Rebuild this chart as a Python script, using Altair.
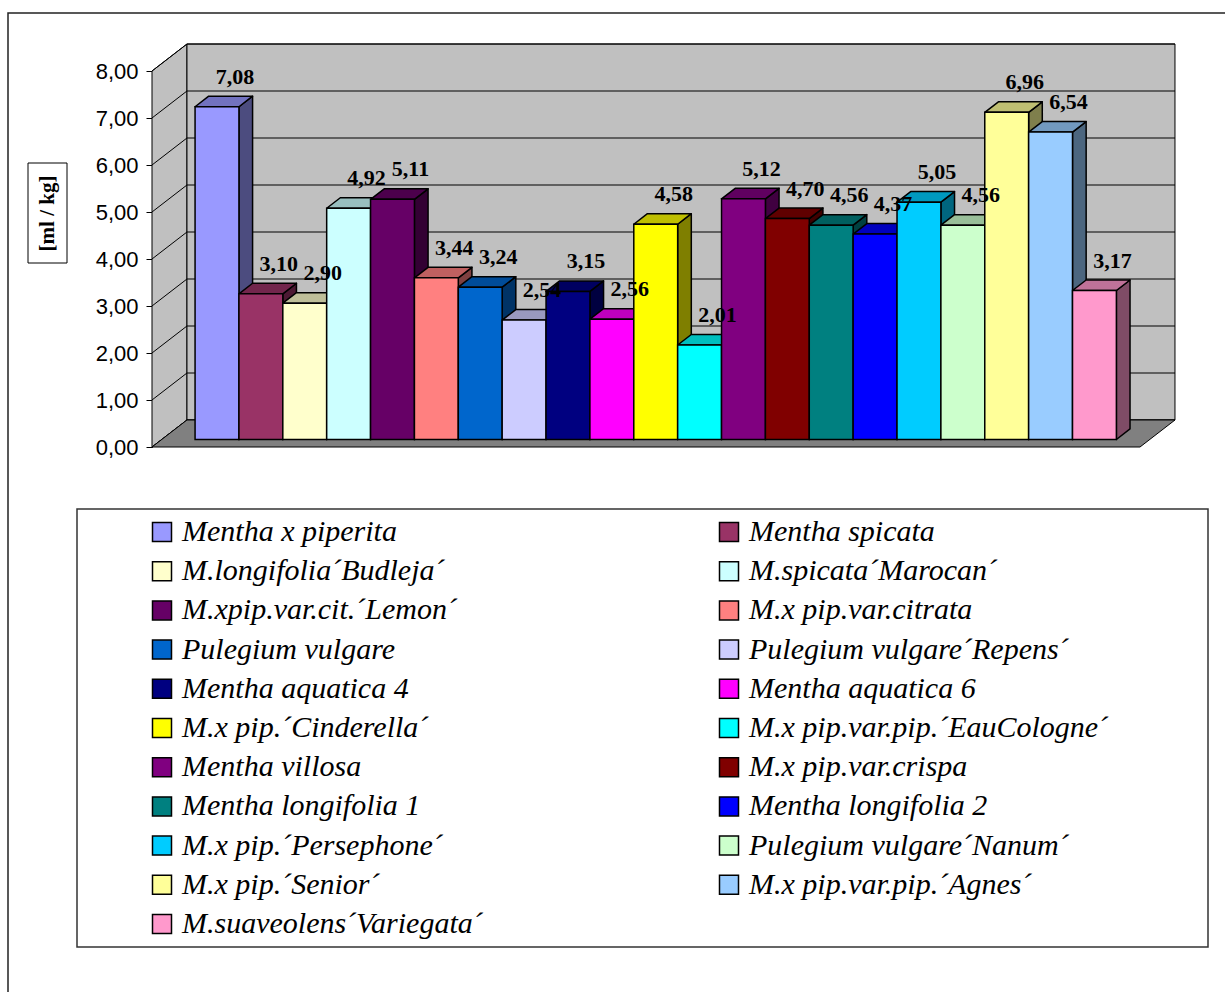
import altair as alt
import pandas as pd

# ---------------- data ----------------
NAMES = [
    "Mentha x piperita", "Mentha spicata", "M.longifolia´Budleja´", "M.spicata´Marocan´",
    "M.xpip.var.cit.´Lemon´", "M.x pip.var.citrata", "Pulegium vulgare", "Pulegium vulgare´Repens´",
    "Mentha aquatica 4", "Mentha aquatica 6", "M.x pip.´Cinderella´", "M.x pip.var.pip.´EauCologne´",
    "Mentha villosa", "M.x pip.var.crispa", "Mentha longifolia 1", "Mentha longifolia 2",
    "M.x pip.´Persephone´", "Pulegium vulgare´Nanum´", "M.x pip.´Senior´", "M.x pip.var.pip.´Agnes´",
    "M.suaveolens´Variegata´",
]
VALUES = [7.08, 3.10, 2.90, 4.92, 5.11, 3.44, 3.24, 2.54, 3.15, 2.56, 4.58,
          2.01, 5.12, 4.70, 4.56, 4.37, 5.05, 4.56, 6.96, 6.54, 3.17]
COLORS = ["#9999FF", "#993366", "#FFFFCC", "#CCFFFF", "#660066", "#FF8080", "#0066CC",
          "#CCCCFF", "#000080", "#FF00FF", "#FFFF00", "#00FFFF", "#800080", "#800000",
          "#008080", "#0000FF", "#00CCFF", "#CCFFCC", "#FFFF99", "#99CCFF", "#FF99CC"]
TICKS = [0, 1, 2, 3, 4, 5, 6, 7, 8]
Y_TITLE = "[ml / kg]"

# ---------------- 3-D projection helpers (data units) ----------------
N = len(VALUES)
MARGIN = 0.76          # floor margin on each side, in bar widths
DU = 35 / 43.9         # full depth shift in x (bar units)
DV = 27 / 47.0         # full depth shift in y (value units)
F1, F2 = 0.278, 0.668  # depth of bar front / back planes
TOP = TICKS[-1]


def shade(hexcol, k):
    h = hexcol.lstrip("#")
    r, g, b = (int(h[i:i + 2], 16) for i in (0, 2, 4))
    return "#%02x%02x%02x" % (int(r * k), int(g * k), int(b * k))


front = pd.DataFrame({
    "name": NAMES,
    "x": [i + F1 * DU for i in range(N)],
    "x2": [i + 1 + F1 * DU for i in range(N)],
    "y0": [F1 * DV] * N,
    "y1": [v + F1 * DV for v in VALUES],
    "lx": [i + 0.5 + F1 * DU for i in range(N)],
    "label": [f"{v:.2f}".replace(".", ",") for v in VALUES],
})

side_rows, top_rows = [], []
for i, (nm, v, c) in enumerate(zip(NAMES, VALUES, COLORS)):
    for f in (F1, F2):
        side_rows.append({"name": nm, "U": i + 1 + f * DU, "lo": f * DV, "hi": v + f * DV,
                          "col": shade(c, 0.5)})
        top_rows.append({"name": nm, "V": v + f * DV, "lo": i + f * DU, "hi": i + 1 + f * DU,
                         "col": shade(c, 0.75)})
side = pd.DataFrame(side_rows)
top = pd.DataFrame(top_rows)

left_wall = pd.DataFrame({"U": [-MARGIN, -MARGIN + DU], "lo": [0, DV], "hi": [TOP, TOP + DV]})
back_wall = pd.DataFrame({"x": [-MARGIN + DU], "x2": [N + MARGIN + DU], "y": [DV], "y2": [TOP + DV]})
grid = pd.DataFrame({"x": [-MARGIN + DU] * len(TICKS), "x2": [N + MARGIN + DU] * len(TICKS),
                     "y": [t + DV for t in TICKS]})
slant = pd.DataFrame({"x": [-MARGIN] * len(TICKS), "x2": [-MARGIN + DU] * len(TICKS),
                      "y": TICKS, "y2": [t + DV for t in TICKS]})
floor = pd.DataFrame({"V": [0, DV], "lo": [-MARGIN, -MARGIN + DU], "hi": [N + MARGIN, N + MARGIN + DU]})
one = pd.DataFrame({"k": [0]})

XS = alt.Scale(domain=[-MARGIN, N + MARGIN], nice=False, zero=False)
YS = alt.Scale(domain=[TICKS[0], TOP], nice=False, zero=False)
YAXIS = alt.Axis(
    values=TICKS, labelExpr="replace(format(datum.value, '.2f'), '.', ',')",
    title=Y_TITLE, titleX=-105, titleY=142, titleAngle=270,
    titleAlign="center", titleBaseline="middle",
    titleFont="Liberation Serif", titleFontWeight="bold", titleFontSize=21, titleColor="black",
    labelFont="Liberation Sans", labelFontSize=22, labelColor="black",
    tickColor="black", tickSize=6, domainColor="black", labelPadding=8, grid=False)


def Y(field, **kw):
    return alt.Y(field, scale=YS, axis=YAXIS, title=Y_TITLE, **kw)


# legend order: the grid fills column by column, so interleave to read row by row
LEG_ORDER = NAMES[0::2] + NAMES[1::2]
LEG_COLORS = [COLORS[NAMES.index(n)] for n in LEG_ORDER]

# ---------------- decorations ----------------
frame = alt.Chart(one).mark_rect(fillOpacity=0, stroke="#222222", strokeWidth=1.5).encode(
    x=alt.value(-144), x2=alt.value(1100), y=alt.value(-58), y2=alt.value(940))
title_box = alt.Chart(one).mark_rect(fillOpacity=0, stroke="black", strokeWidth=1).encode(
    x=alt.value(-124), x2=alt.value(-85), y=alt.value(92), y2=alt.value(192))
legend_box = alt.Chart(one).mark_rect(fillOpacity=0, stroke="#333333", strokeWidth=1.5).encode(
    x=alt.value(-75), x2=alt.value(1056), y=alt.value(438), y2=alt.value(876))

lwall = alt.Chart(left_wall).mark_area(orient="vertical", fill="#C0C0C0", stroke="black",
                                       strokeWidth=1).encode(
    x=alt.X("U:Q", scale=XS, axis=None),
    y=Y("hi:Q", stack=None),
    y2="lo:Q")
bwall = alt.Chart(back_wall).mark_rect(fill="#C0C0C0", stroke="black", strokeWidth=1).encode(
    x=alt.X("x:Q", scale=XS, axis=None), x2="x2:Q",
    y=Y("y:Q"), y2="y2:Q")
grid_l = alt.Chart(grid).mark_rule(color="black", strokeWidth=1).encode(
    x=alt.X("x:Q", scale=XS, axis=None), x2="x2:Q",
    y=Y("y:Q"))
slant_l = alt.Chart(slant).mark_rule(color="black", strokeWidth=1).encode(
    x=alt.X("x:Q", scale=XS, axis=None), x2="x2:Q",
    y=Y("y:Q"), y2="y2:Q")
floor_l = alt.Chart(floor).mark_area(orient="horizontal", fill="#808080", stroke="black",
                                     strokeWidth=1).encode(
    y=Y("V:Q"),
    x=alt.X("hi:Q", scale=XS, axis=None, stack=None),
    x2="lo:Q")

# ---------------- bars ----------------
sides = alt.Chart(side).mark_area(orient="vertical", stroke="black", strokeWidth=1.5,
                                  strokeJoin="round").encode(
    x=alt.X("U:Q", scale=XS, axis=None),
    y=Y("hi:Q", stack=None),
    y2="lo:Q",
    detail="name:N",
    fill=alt.Fill("col:N", scale=None))
tops = alt.Chart(top).mark_area(orient="horizontal", stroke="black", strokeWidth=1.5,
                                strokeJoin="round").encode(
    y=Y("V:Q"),
    x=alt.X("hi:Q", scale=XS, axis=None, stack=None),
    x2="lo:Q",
    detail="name:N",
    fill=alt.Fill("col:N", scale=None))

fronts = alt.Chart(front).mark_rect(stroke="black", strokeWidth=1.5).encode(
    x=alt.X("x:Q", scale=XS, axis=None), x2="x2:Q",
    y=Y("y1:Q"),
    y2="y0:Q",
    color=alt.Color("name:N", scale=alt.Scale(domain=LEG_ORDER, range=LEG_COLORS),
                    sort=LEG_ORDER,
                    legend=alt.Legend(
                        orient="none", legendX=-5, legendY=446, columns=2, title=None,
                        labelFont="Liberation Serif", labelFontStyle="italic", labelFontSize=30,
                        labelColor="black", labelLimit=1000, labelOffset=5,
                        symbolType="square", symbolSize=361, symbolStrokeColor="black",
                        symbolStrokeWidth=1.5, rowPadding=9.2, columnPadding=231, padding=0)))

labels = alt.Chart(front).mark_text(font="Liberation Serif", fontWeight="bold", fontSize=22,
                                    dx=18, dy=-30, baseline="middle", align="center",
                                    color="black").encode(
    x=alt.X("lx:Q", scale=XS, axis=None),
    y=Y("y1:Q"),
    text="label:N")

chart = alt.layer(
    frame, title_box, legend_box, lwall, bwall, grid_l, slant_l, floor_l,
    sides, tops, fronts, labels,
).properties(
    width=988, height=376,
    padding={"left": 152, "top": 71, "right": 85, "bottom": 545},
    autosize=alt.AutoSizeParams(type="none"),
    background="white",
).configure_view(strokeWidth=0)

chart.save("out.html", embed_options={"renderer": "svg", "actions": False})
